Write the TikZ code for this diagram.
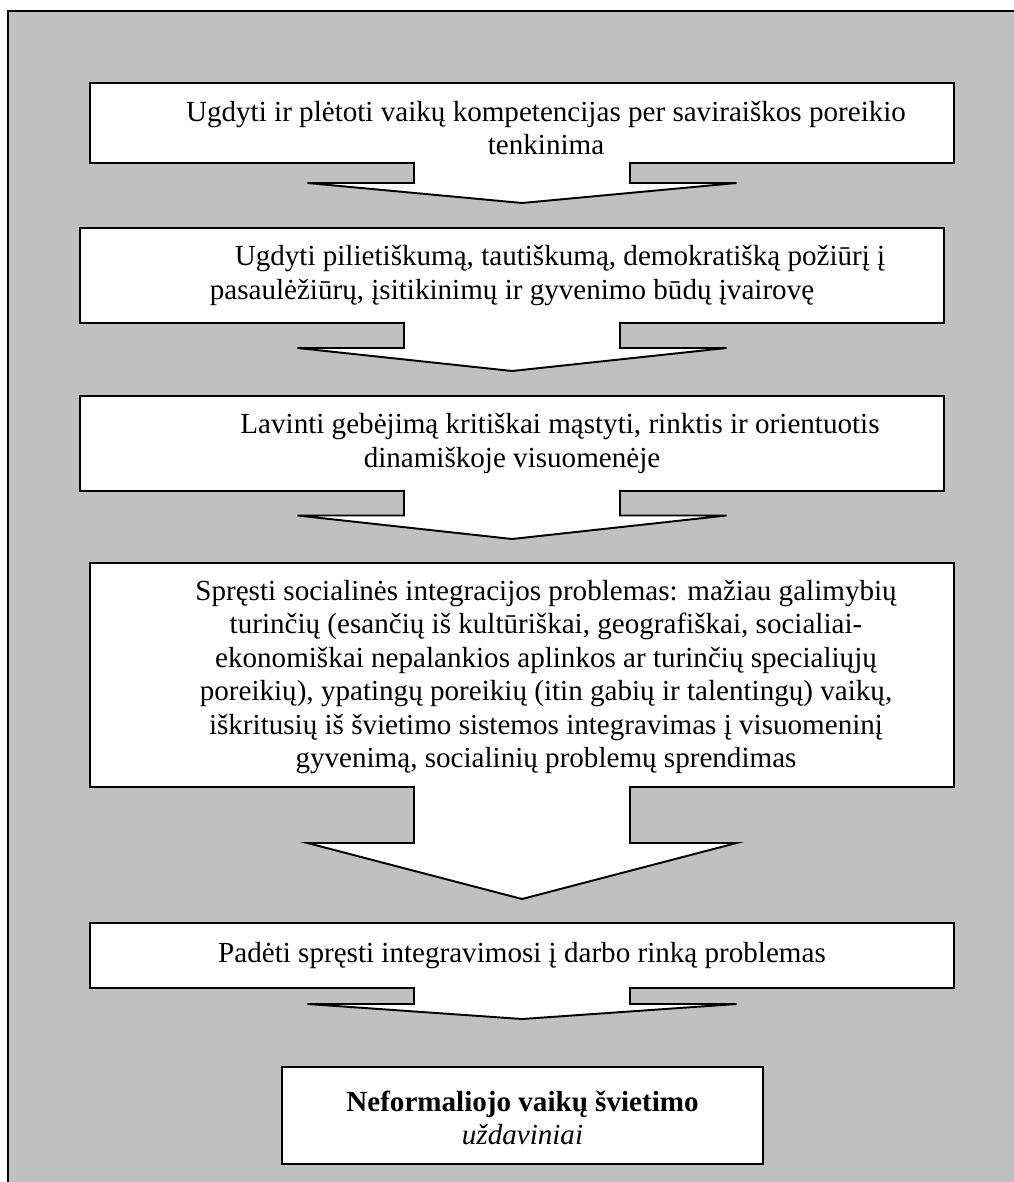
\documentclass[tikz,border=0pt]{standalone}
\usepackage{fontspec}
\setmainfont{Liberation Serif}
\usetikzlibrary{calc}
\newlength\pxu
\setlength\pxu{0.4125pt}
\definecolor{panelgray}{RGB}{192,192,192}

\begin{document}
\begin{tikzpicture}[x=0.4125pt, y=-0.4125pt, line width=0.8pt,
                    font=\fontsize{12}{13.8}\selectfont,
                    task box/.style={rectangle,draw,fill=white,outer sep=0pt,minimum width=864\pxu},
                    task text/.style={align=center,inner sep=0pt},
                    block arrow/.style={draw,fill=white,line join=miter}]

   \useasboundingbox (0,0) rectangle (1013,1182);
   \filldraw[fill=panelgray] (8,11) rectangle (1030,1200);

   \node[task box, minimum height=80\pxu]  (b1) at (522,123) {};
   \node[task box, minimum height=95\pxu]  (b2) at (512,275.5) {};
   \node[task box, minimum height=95\pxu]  (b3) at (512,443.5) {};
   \node[task box, minimum height=224\pxu] (b4) at (522,675) {};
   \node[task box, minimum height=65\pxu]  (b5) at (522,955.5) {};
   \node[task box, minimum width=481\pxu, minimum height=97\pxu] (b6) at (522.5,1115.5) {};

   % block arrows: box / shaft length / head length
   \foreach \b/\s/\h in {b1/20/20, b2/25/23, b3/24.5/23.5, b4/56/56, b5/16/15}
     \filldraw[block arrow] ($(\b.south)+(-108,-1.2)$) -- ++(0,\s+1.2) -- ++(-106.5,0)
        -- ($(\b.south)+(0,\s+\h)$) -- ($(\b.south)+(214.5,\s)$) -- ++(-106.5,0)
        -- ($(\b.south)+(108,-1.2)$);

   \node[task text] (t1) at ($(b1)+(24,5)$)
      {Ugdyti ir plėtoti vaikų kompetencijas per saviraiškos poreikio\\tenkinima};
   \node[task text] (t2) at ($(b2)+(0,0)$)
      {\hspace*{96\pxu}Ugdyti pilietiškumą, tautiškumą, demokratišką požiūrį į\\
       pasaulėžiūrų, įsitikinimų ir gyvenimo būdų įvairovę};
   \node[task text] (t3) at ($(b3)+(0,0)$)
      {\hspace*{96\pxu}Lavinti gebėjimą kritiškai mąstyti, rinktis ir orientuotis\\
       dinamiškoje visuomenėje};
   \node[task text] (t4) at ($(b4)+(24,2)$)
      {Spręsti socialinės integracijos problemas: mažiau galimybių\\
       turinčių (esančių iš kultūriškai, geografiškai, socialiai-\\
       ekonomiškai nepalankios aplinkos ar turinčių specialiųjų\\
       poreikių), ypatingų poreikių (itin gabių ir talentingų) vaikų,\\
       iškritusių iš švietimo sistemos integravimas į visuomeninį\\
       gyvenimą, socialinių problemų sprendimas};
   \node[task text] (t5) at (b5)
      {Padėti spręsti integravimosi į darbo rinką problemas};
   \node[task text] (t6) at ($(b6)+(0,2.5)$)
      {\textbf{Neformaliojo vaikų švietimo}\\\textit{uždaviniai}};

\end{tikzpicture}
\end{document}
